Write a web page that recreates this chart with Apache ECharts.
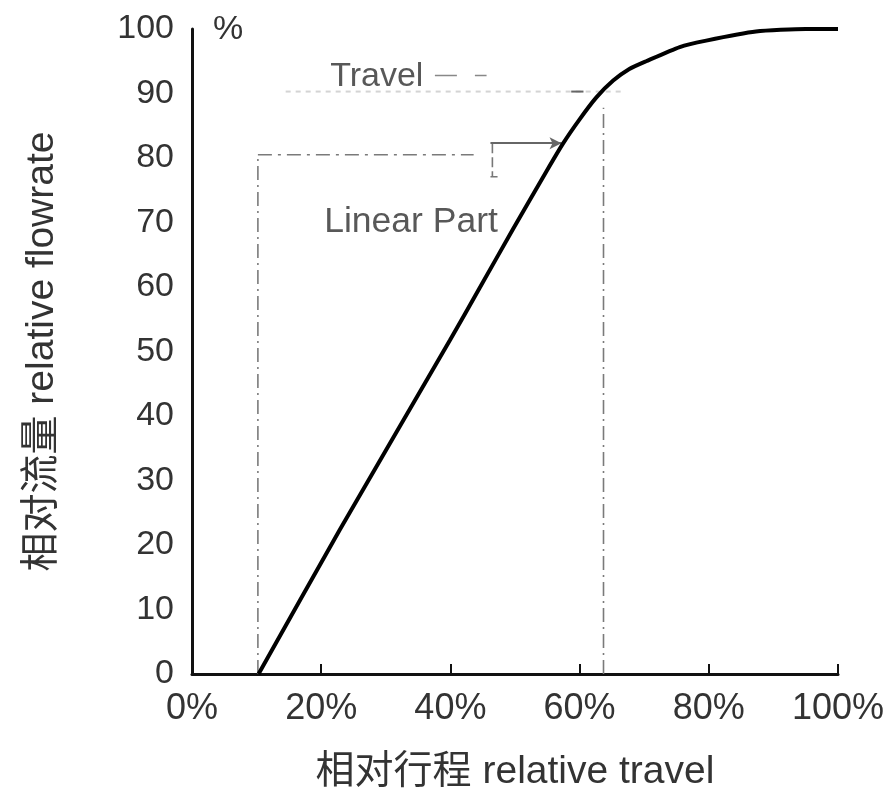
<!DOCTYPE html>
<html>
<head>
<meta charset="utf-8">
<script src="https://cdn.jsdelivr.net/npm/echarts@6/dist/echarts.min.js"></script>
<style>
html,body{margin:0;padding:0;background:#fff;}
#chart{width:889px;height:794px;}
</style>
</head>
<body>
<div id="chart"></div>
<script>
// ---- data (relative travel %, relative flowrate %) ----
const travel   = [10.3, 22.9, 39.9, 44.5, 49.7, 54.9, 57.4, 60.0, 62.6, 65.2, 67.7, 70.3, 75.5, 79.6, 87.3, 95.0, 100];
const flowrate = [0,    22.4, 51.7, 59.8, 69.0, 78.0, 82.2, 86.0, 89.4, 92.0, 93.8, 95.0, 97.2, 98.2, 99.6, 100.0, 100];

const xTicks = [0, 20, 40, 60, 80, 100];
const yTicks = [0, 10, 20, 30, 40, 50, 60, 70, 80, 90, 100];

// annotation guide segments in data units [[x1,y1],[x2,y2]]
const linearStartV   = [[10.2, 0], [10.2, 80.5]];
const linearTopH     = [[10.2, 80.5], [43.6, 80.5]];
const travelV        = [[63.7, 0], [63.7, 87.8]];
const travelFaintH   = [[14.5, 90.3], [66.5, 90.3]];
const travelDarkDash = [[58.7, 90.3], [60.6, 90.3]];
const travelLeader   = [[37.6, 92.8], [45.6, 92.8]];
const bracketV       = [[46.5, 82.3], [46.5, 77.1]];
const bracketFoot    = [[46.2, 77.1], [47.3, 77.1]];
const arrowH         = [[46.2, 82.3], [57.2, 82.3]];

const annotations = [
  { name: 'Travel',      pos: [28.6, 92.6], size: 34 },
  { name: 'Linear Part', pos: [33.9, 70.0], size: 35.5 }
];

const FONT = "'Liberation Sans', Arial, 'Noto Sans CJK SC', sans-serif";
const TEXT = '#333';

function seg(points, style) {
  return {
    type: 'line', data: points, symbol: 'none', silent: true,
    lineStyle: style, z: 1, animation: false
  };
}

const chart = echarts.init(document.getElementById('chart'));
chart.setOption({
  animation: false,
  backgroundColor: '#fff',
  grid: { left: 192, right: 51, top: 29, bottom: 120, containLabel: false, outerBoundsMode: 'none' },
  title: {
    text: '%', left: 208, top: 8,
    textStyle: { fontFamily: FONT, fontSize: 34, fontWeight: 'normal', color: TEXT }
  },
  xAxis: {
    type: 'value', min: xTicks[0], max: xTicks[xTicks.length - 1], interval: 20,
    name: '相对行程 relative travel', nameLocation: 'middle', nameGap: 79,
    nameTextStyle: { fontFamily: FONT, fontSize: 39, color: TEXT },
    axisLine: { lineStyle: { color: '#111', width: 3 } },
    axisTick: { show: true, inside: true, length: 10, lineStyle: { color: '#111', width: 2 } },
    axisLabel: { formatter: '{value}%', fontFamily: FONT, fontSize: 36, color: TEXT, margin: 17 },
    splitLine: { show: false }
  },
  yAxis: {
    type: 'value', min: yTicks[0], max: yTicks[yTicks.length - 1], interval: 10,
    name: '相对流量 relative flowrate', nameLocation: 'middle', nameGap: 130,
    nameTextStyle: { fontFamily: FONT, fontSize: 39, color: TEXT },
    axisLine: { show: true, lineStyle: { color: '#111', width: 3 } },
    axisTick: { show: false },
    axisLabel: { fontFamily: FONT, fontSize: 34, color: TEXT, margin: 18 },
    splitLine: { show: false }
  },
  series: [
    seg(travelFaintH,   { color: '#d4d4d4', width: 2, type: [5, 5] }),
    seg(linearStartV,   { color: '#7a7a7a', width: 1.6, type: [14, 5, 2, 5] }),
    seg(linearTopH,     { color: '#7a7a7a', width: 1.6, type: [14, 6, 3, 6] }),
    seg(travelV,        { color: '#7a7a7a', width: 1.6, type: [14, 5, 2, 5] }),
    seg(travelDarkDash, { color: '#666', width: 2 }),
    seg(travelLeader,   { color: '#888', width: 1.6, type: [22, 18, 12] }),
    seg(bracketV,       { color: '#777', width: 1.6, type: [10, 4] }),
    seg(bracketFoot,    { color: '#777', width: 1.6 }),
    {
      type: 'line', data: [], silent: true, animation: false,
      markLine: {
        silent: true, symbol: ['none', 'arrow'], symbolSize: [9, 12],
        label: { show: false },
        lineStyle: { color: '#666', width: 1.8, type: 'solid' },
        data: [[{ coord: arrowH[0] }, { coord: arrowH[1] }]]
      }
    },
    {
      type: 'line', name: 'flow',
      data: travel.map((t, i) => [t, flowrate[i]]),
      symbol: 'none', smooth: 0.2,
      lineStyle: { color: '#000', width: 4 }, z: 5
    },
    {
      type: 'scatter', silent: true, symbolSize: 0,
      data: annotations.map(a => ({ name: a.name, value: a.pos, label: { fontSize: a.size } })),
      label: {
        show: true, position: 'inside', formatter: '{b}',
        fontFamily: FONT, color: '#2e2e2e'
      }, z: 6
    }
  ]
});
</script>
</body>
</html>
